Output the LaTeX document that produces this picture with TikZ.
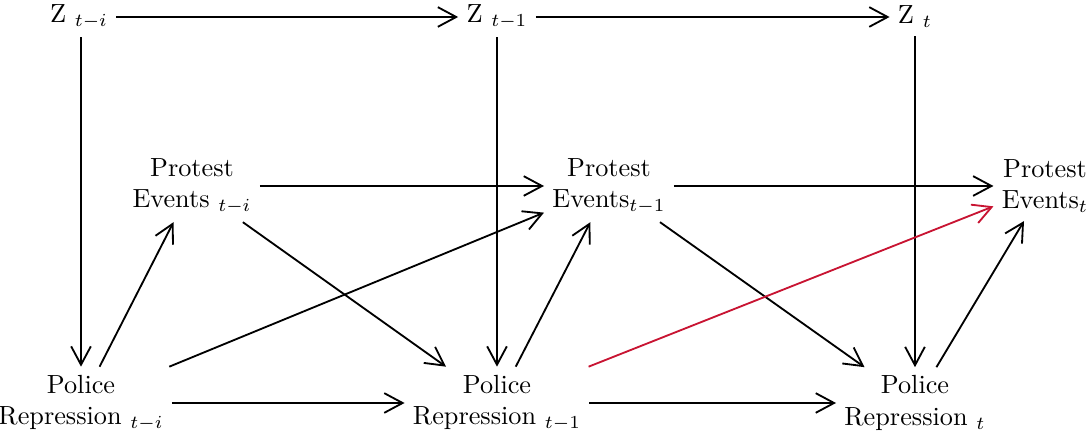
\documentclass[tikz,border=0pt]{standalone}
\usepackage{amsmath,amssymb}
\usepackage{xcolor}
\usetikzlibrary{arrows.meta}
\definecolor{redarr}{RGB}{200,20,50}

\begin{document}
\begin{tikzpicture}[
  x=0.381pt,y=-0.381pt,
  v/.style={align=center,inner sep=3pt},
  a/.style={-{Straight Barb[length=7pt,width=7.5pt]},line width=0.7pt},
  r/.style={a,draw=redarr}
]
\useasboundingbox (0,0) rectangle (1086,438);
\node[v] (z1) at (79,17)   {Z $_{t-i}$};
\node[v] (z2) at (497,17)  {Z $_{t-1}$};
\node[v] (z3) at (915,17)  {Z $_{t}$};
\node[v] (e1) at (192,186) {Protest\\Events $_{t-i}$};
\node[v] (e2) at (609,186) {Protest\\Events$_{t-1}$};
\node[v] (e3) at (1045,186){Protest\\Events$_{t}$};
\node[v] (p1) at (81,403)  {Police\\Repression $_{t-i}$};
\node[v] (p2) at (497,403) {Police\\Repression $_{t-1}$};
\node[v] (p3) at (915,403) {Police\\Repression $_{t}$};
% time
\draw[a](z1)--(z2);\draw[a](z2)--(z3);
\draw[a](e1)--(e2);\draw[a](e2)--(e3);
\draw[a](p1)--(p2);\draw[a](p2)--(p3);
% Z down to repression
\draw[a](z1.south -| p1)--(p1);\draw[a](z2)--(p2);\draw[a](z3)--(p3);
% repression -> protest
\draw[a](p1)--(e1);\draw[a](p2)--(e2);\draw[a](p3)--(e3);
\draw[a](e1)--(p2);\draw[a](e2)--(p3);
\draw[a](p1)--(e2);
\draw[r](p2)--(e3);
\end{tikzpicture}
\end{document}
